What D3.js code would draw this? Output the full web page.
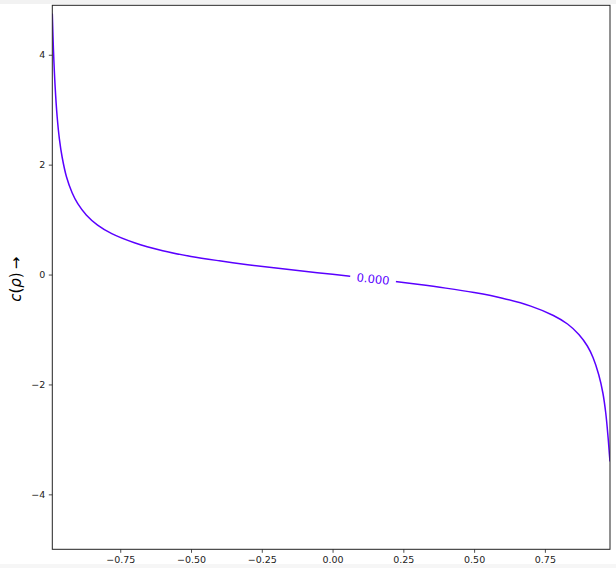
<!DOCTYPE html>
<html><head><meta charset="utf-8">
<script src="https://cdn.jsdelivr.net/npm/d3@7"></script>
<style>html,body{margin:0;padding:0;background:#fff;}svg{display:block;}</style>
</head><body>
<script>
// Contour level 0: rho -> c(rho)
const rhoValues = [-0.99, -0.986, -0.98, -0.973, -0.965, -0.955, -0.94, -0.92, -0.9, -0.87, -0.83, -0.78, -0.7, -0.6, -0.5, -0.4, -0.3, -0.2, -0.1, 0.0, 0.1, 0.2, 0.3, 0.4, 0.5, 0.6, 0.7, 0.78, 0.83, 0.87, 0.9, 0.92, 0.94, 0.955, 0.965, 0.973, 0.978, 0.98];
const cValues   = [4.75, 4.1, 3.42, 2.88, 2.47, 2.13, 1.78, 1.49, 1.29, 1.085, 0.90, 0.745, 0.58, 0.435, 0.33, 0.25, 0.18, 0.118, 0.06, 0.005, -0.056, -0.114, -0.177, -0.247, -0.328, -0.43, -0.575, -0.745, -0.90, -1.09, -1.30, -1.51, -1.82, -2.16, -2.52, -2.95, -3.28, -3.40];
const levelLabel = "0.000";
const labelRho = 0.143;
const xTicks = [-0.75, -0.5, -0.25, 0, 0.25, 0.5, 0.75];
const yTicks = [-4, -2, 0, 2, 4];
const xDomain = [-0.99, 0.98];
const yDomain = [-5, 4.9];

const W = 616, H = 568;
const L = 52.3, R = 610, T = 5.3, B = 549.3;
const col = "#5a00ff";

const svg = d3.select("body").append("svg").attr("width", W).attr("height", H);
svg.append("rect").attr("width", W).attr("height", H).attr("fill", "#fff");
svg.append("rect").attr("x",0).attr("y",0).attr("width",W).attr("height",4).attr("fill","#f2f2f2");
svg.append("rect").attr("x",0).attr("y",564).attr("width",W).attr("height",4).attr("fill","#f6f6f6");

const x = d3.scaleLinear().domain(xDomain).range([L, R]);
const y = d3.scaleLinear().domain(yDomain).range([B, T]);

const pts = rhoValues.map((r, i) => [r, cValues[i]]);
const line = d3.line().x(d => x(d[0])).y(d => y(d[1])).curve(d3.curveCatmullRom.alpha(0.5));

svg.append("defs").append("clipPath").attr("id","clip")
  .append("rect").attr("x",L).attr("y",T).attr("width",R-L).attr("height",B-T);

// label position
const lc = d3.scaleLinear().domain(rhoValues).range(cValues)(labelRho);
const lx = x(labelRho), ly = y(lc);
const ang = 6;

const mask = svg.select("defs").append("mask").attr("id","gap");
mask.append("rect").attr("x",0).attr("y",0).attr("width",W).attr("height",H).attr("fill","#fff");
mask.append("rect").attr("x",-23).attr("y",-10).attr("width",46).attr("height",20).attr("fill","#000")
  .attr("transform",`translate(${lx},${ly}) rotate(${ang})`);

svg.append("g").attr("clip-path","url(#clip)")
  .append("path").datum(pts).attr("d", line)
  .attr("fill","none").attr("stroke",col).attr("stroke-width",1.5)
  .attr("mask","url(#gap)");

svg.append("text").attr("transform",`translate(${lx},${ly}) rotate(${ang})`)
  .attr("text-anchor","middle").attr("dy","0.35em")
  .attr("font-family","DejaVu Sans").attr("font-size",11.5).attr("fill",col)
  .text(levelLabel);

// axes
const fmtX = d => d3.format(".2f")(d).replace("-", "\u2212");
const fmtY = d => String(d).replace("-", "\u2212");
const gx = svg.append("g").attr("transform",`translate(0,${B})`)
  .call(d3.axisBottom(x).tickValues(xTicks).tickFormat(fmtX).tickSize(3.5).tickPadding(3.5));
const gy = svg.append("g").attr("transform",`translate(${L},0)`)
  .call(d3.axisLeft(y).tickValues(yTicks).tickFormat(fmtY).tickSize(3.5).tickPadding(3.5));
[gx, gy].forEach(g => {
  g.select(".domain").remove();
  g.selectAll("line").attr("stroke","#222").attr("stroke-width",0.8);
  g.selectAll("text").attr("font-family","DejaVu Sans").attr("font-size",9.5).attr("fill","#222");
});
svg.append("rect").attr("x",L).attr("y",T).attr("width",R-L).attr("height",B-T)
  .attr("fill","none").attr("stroke","#222").attr("stroke-width",1);

// y label
const yl = svg.append("text").attr("transform",`translate(21,${(T+B)/2+2}) rotate(-90)`)
  .attr("text-anchor","middle").attr("font-family","DejaVu Sans").attr("font-size",15).attr("fill","#000");
yl.append("tspan").attr("font-style","italic").text("c");
yl.append("tspan").text("(");
yl.append("tspan").attr("font-style","italic").text("\u03C1");
yl.append("tspan").text(")\u2009\u2192");
</script>
</body></html>
